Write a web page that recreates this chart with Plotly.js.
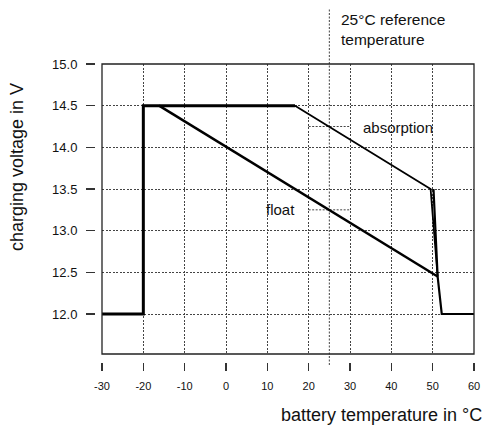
<!DOCTYPE html>
<html>
<head>
<meta charset="utf-8">
<script src="https://cdn.plot.ly/plotly-3.0.1.min.js"></script>
<style>html,body{margin:0;padding:0;background:#fff;}#chart{width:483px;height:428px;}</style>
</head>
<body>
<div id="chart"></div>
<script>
// ---- data ----
var outlineTemp = [-30, -20, -20, 16.7];
var outlineVolt = [12.0, 12.0, 14.5, 14.5];
var absorptionTemp = [16.7, 49.5, 51.2];
var absorptionVolt = [14.5, 13.5, 12.45];
var cutoffTemp = [50.2, 51.2, 52.2, 60];
var cutoffVolt = [13.5, 12.45, 12.0, 12.0];
var floatTemp = [-16.2, 51.2];
var floatVolt = [14.5, 12.45];
var referenceTemp = 25;
var leaderTemp = [20, 30];
var leaderVolt = [14.25, 13.25];
var xTickVals = [-30, -20, -10, 0, 10, 20, 30, 40, 50, 60];
var xTickText = ['-30', '-20', '-10', '0', '10', '20', '30', '40', '50', '60'];
var yTickVals = [12.0, 12.5, 13.0, 13.5, 14.0, 14.5, 15.0];
var yTickText = ['12.0', '12.5', '13.0', '13.5', '14.0', '14.5', '15.0'];
var labels = {absorption: 'absorption', float: 'float',
  reference: '25°C reference<br>temperature',
  xTitle: 'battery temperature in °C', yTitle: 'charging voltage in V'};

var W = 483, H = 428;
function px(x){ return x / W; }
function py(y){ return (H - y) / H; }

var FONT = 'Liberation Sans, Arial, sans-serif';
var lineC = '#000';

var traces = [
  {x: outlineTemp, y: outlineVolt, mode: 'lines', line: {color: lineC, width: 3}, hoverinfo: 'skip'},
  {x: absorptionTemp, y: absorptionVolt, mode: 'lines', line: {color: lineC, width: 1.8}, hoverinfo: 'skip'},
  {x: cutoffTemp, y: cutoffVolt, mode: 'lines', line: {color: lineC, width: 2.2}, hoverinfo: 'skip'},
  {x: floatTemp, y: floatVolt, mode: 'lines', line: {color: lineC, width: 2.5}, hoverinfo: 'skip'}
];

var dotted = {color: '#444', width: 1, dash: '2px,1.5px'};
var shapes = [
  {type: 'rect', xref: 'x domain', yref: 'y domain', x0: 0, x1: 1, y0: 0, y1: 1,
   line: {color: '#222', width: 1.3}, layer: 'above'},
  {type: 'line', xref: 'x', yref: 'paper', x0: referenceTemp, x1: referenceTemp,
   y0: py(365), y1: py(8), line: dotted, layer: 'below'},
  {type: 'line', xref: 'x', yref: 'y', x0: leaderTemp[0], x1: leaderTemp[1],
   y0: leaderVolt[0], y1: leaderVolt[0], line: dotted, layer: 'below'},
  {type: 'line', xref: 'x', yref: 'y', x0: leaderTemp[0], x1: leaderTemp[1],
   y0: leaderVolt[1], y1: leaderVolt[1], line: dotted, layer: 'below'}
];

var layout = {
  width: W, height: H,
  margin: {l: 0, r: 0, t: 0, b: 0},
  paper_bgcolor: '#fff', plot_bgcolor: '#fff',
  showlegend: false,
  font: {family: FONT, color: '#111'},
  xaxis: {
    domain: [px(102), px(474)], range: [-30, 60],
    anchor: 'free', position: py(362),
    showline: false, zeroline: false,
    tickvals: xTickVals, ticktext: xTickText, ticks: 'outside', ticklen: 8, tickwidth: 1.3, tickcolor: '#333',
    ticklabelstandoff: 6,
    tickfont: {size: 11, family: FONT, color: '#111'},
    showgrid: true, gridcolor: '#444', gridwidth: 1, griddash: '2px,1.5px'
  },
  yaxis: {
    domain: [py(354), py(64)], range: [11.52, 15.0],
    anchor: 'free', position: px(95),
    showline: false, zeroline: false,
    tickvals: yTickVals, ticktext: yTickText, ticks: 'outside', ticklen: 9, tickwidth: 1.3, tickcolor: '#333',
    ticklabelstandoff: 6,
    tickfont: {size: 13, family: FONT, color: '#111'},
    showgrid: true, gridcolor: '#444', gridwidth: 1, griddash: '2px,1.5px'
  },
  shapes: shapes,
  annotations: [
    {text: labels.absorption, xref: 'x', yref: 'y', x: 41.5, y: 14.24, showarrow: false,
     font: {size: 15, family: FONT, color: '#111'}, xanchor: 'center', yanchor: 'middle'},
    {text: labels.float, xref: 'x', yref: 'y', x: 13.3, y: 13.26, showarrow: false,
     font: {size: 15, family: FONT, color: '#111'}, xanchor: 'center', yanchor: 'middle'},
    {text: labels.reference, xref: 'paper', yref: 'paper', x: px(339), y: py(9), showarrow: false,
     align: 'left', xanchor: 'left', yanchor: 'top', font: {size: 15.5, family: FONT, color: '#111'}},
    {text: labels.xTitle, xref: 'paper', yref: 'paper', x: px(484), y: py(415), showarrow: false,
     xanchor: 'right', yanchor: 'middle', font: {size: 18, family: FONT, color: '#111'}},
    {text: labels.yTitle, xref: 'paper', yref: 'paper', x: px(17), y: py(167), showarrow: false,
     textangle: -90, xanchor: 'center', yanchor: 'middle', font: {size: 18, family: FONT, color: '#111'}}
  ]
};

Plotly.newPlot('chart', traces, layout, {staticPlot: true, displayModeBar: false});
</script>
</body>
</html>
